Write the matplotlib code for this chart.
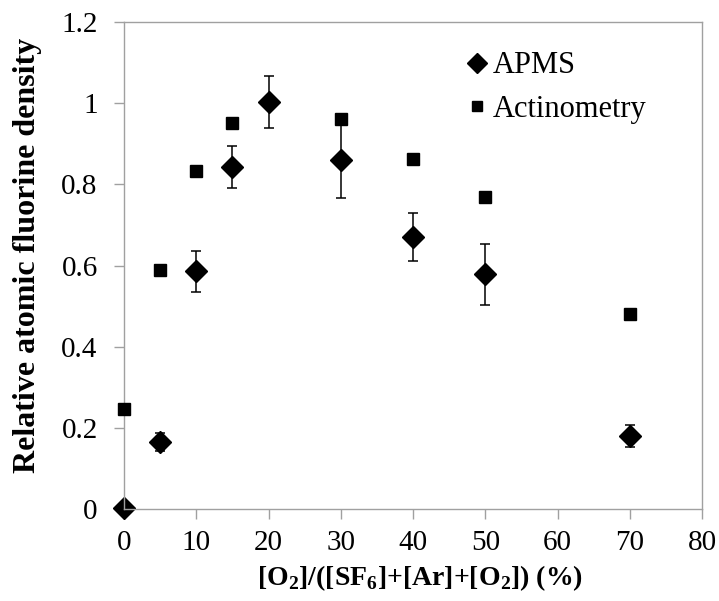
import matplotlib.pyplot as plt
from matplotlib.lines import Line2D

o2_apms = [0, 5, 10, 15, 20, 30, 40, 50, 70]
apms = [0.003, 0.166, 0.586, 0.843, 1.003, 0.860, 0.671, 0.579, 0.179]
apms_err = [0.0, 0.022, 0.05, 0.051, 0.064, 0.093, 0.059, 0.075, 0.027]

o2_act = [0, 5, 10, 15, 30, 40, 50, 70]
actino = [0.246, 0.588, 0.833, 0.951, 0.961, 0.862, 0.770, 0.481]

x_ticks = [0, 10, 20, 30, 40, 50, 60, 70, 80]
y_ticks = [0, 0.2, 0.4, 0.6, 0.8, 1, 1.2]
y_labels = ['0', '0.2', '0.4', '0.6', '0.8', '1', '1.2']

plt.rcParams['font.family'] = ['Liberation Serif', 'DejaVu Serif']
plt.rcParams['mathtext.fontset'] = 'custom'
plt.rcParams['mathtext.rm'] = 'Liberation Serif'
plt.rcParams['mathtext.bf'] = 'Liberation Serif:bold'

fig = plt.figure(figsize=(7.19, 6.01), dpi=100)
ax = fig.add_axes([0.1725, 0.1531, 0.804, 0.810])

ax.errorbar(o2_apms, apms, yerr=apms_err, fmt='D', color='black', ms=11.5,
            ecolor='black', elinewidth=1.1, capsize=3.5, capthick=1.1,
            zorder=2, clip_on=False)
ax.plot(o2_act, actino, 's', color='black', ms=9, zorder=3, clip_on=False)

ax.set_xlim(0, 80)
ax.set_ylim(0, 1.2)
ax.set_xticks(x_ticks)
ax.set_yticks(y_ticks)
ax.set_yticklabels(y_labels)

for side in ['left', 'bottom', 'top', 'right']:
    ax.spines[side].set_color('#a0a0a0')
    ax.spines[side].set_linewidth(1.0)
ax.tick_params(direction='out', length=7, width=1.0, color='#a0a0a0',
               labelsize=21, labelcolor='black')
ax.tick_params(axis='y', pad=12)
ax.tick_params(axis='x', pad=8)

ax.set_xlabel(r'[O$_\mathbf{2}$]/([SF$_\mathbf{6}$]+[Ar]+[O$_\mathbf{2}$]) (%)',
              fontsize=20, fontweight='bold')
ax.xaxis.set_label_coords(0.512, -0.112)
ax.set_ylabel('Relative atomic fluorine density', fontsize=23,
              fontweight='bold')
ax.yaxis.set_label_coords(-0.142, 0.52)

handles = [
    Line2D([], [], marker='D', color='black', ls='none', ms=10),
    Line2D([], [], marker='s', color='black', ls='none', ms=7.5),
]
ax.legend(handles, ['APMS', 'Actinometry'], loc='upper left',
          bbox_to_anchor=(0.57, 0.965), borderaxespad=0, frameon=False,
          fontsize=22, handletextpad=0.12, handlelength=0.75,
          labelspacing=0.47)

fig.savefig('out.png', dpi=100)
